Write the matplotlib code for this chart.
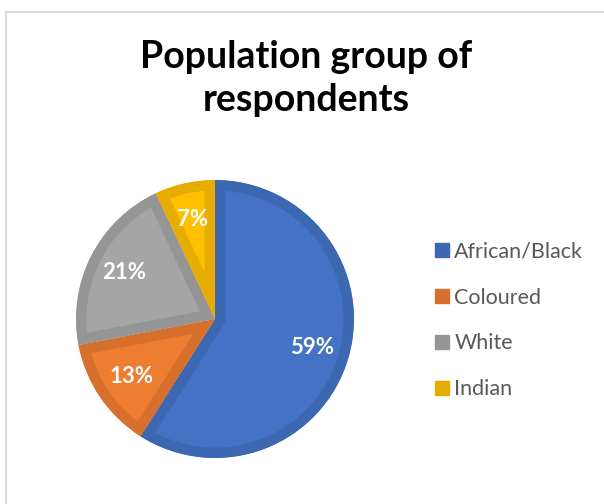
import matplotlib.pyplot as plt
from matplotlib.lines import Line2D

groups = ['African/Black', 'Coloured', 'White', 'Indian']
shares = [59, 13, 21, 7]
fills = ['#4472C4', '#ED7D31', '#A5A5A5', '#FFC000']
borders = ['#3C67B1', '#D6702C', '#959595', '#E6AC00']

plt.rcParams['font.family'] = ['Lato', 'DejaVu Sans']

W, H = 604, 504
fig = plt.figure(figsize=(W / 100, H / 100), dpi=100)

# pie centred at (215, 319) px, radius 139 px
cx, cy, r = 215, 319, 139
ax = fig.add_axes([(cx - r) / W, (H - cy - r) / H, 2 * r / W, 2 * r / H])
total = sum(shares)
wedges, _, pcts = ax.pie(shares, colors=fills, startangle=90, counterclock=False,
                         autopct=lambda p: f'{round(p * total / 100)}%', pctdistance=0.73,
                         wedgeprops=dict(linewidth=15, joinstyle='miter'),
                         textprops=dict(color='white', fontsize=16, fontweight='bold'))
for w, ec in zip(wedges, borders):
    w.set_edgecolor(ec)
    w.set_clip_on(True)
    w.set_clip_path(w)  # keep the thick border inside each slice
ax.set_xlim(-1, 1)
ax.set_ylim(-1, 1)
ax.set_aspect('equal')
ax.axis('off')

fig.text(306 / W, 1 - 57 / H, 'Population group of', ha='center', va='center',
         fontsize=27, fontweight='bold', color='black')
fig.text(306 / W, 1 - 100 / H, 'respondents', ha='center', va='center',
         fontsize=27, fontweight='bold', color='black')

handles = [Line2D([], [], marker='s', linestyle='none', markersize=10,
                  markerfacecolor=ec, markeredgecolor=ec) for ec in borders]
fig.legend(handles, groups, loc='center left', bbox_to_anchor=(435 / W, 1 - 320.5 / H),
           frameon=False, fontsize=15.5, labelcolor='#595959', borderpad=0,
           borderaxespad=0, handlelength=0.65, handletextpad=0.25, labelspacing=1.2)

# light frame along the top and left
fig.add_artist(Line2D([6 / W, 1], [1 - 12 / H, 1 - 12 / H], color='#D9D9D9', lw=1.5))
fig.add_artist(Line2D([6 / W, 6 / W], [0, 1 - 12 / H], color='#D9D9D9', lw=1.5))

fig.savefig('out.png', dpi=100)
